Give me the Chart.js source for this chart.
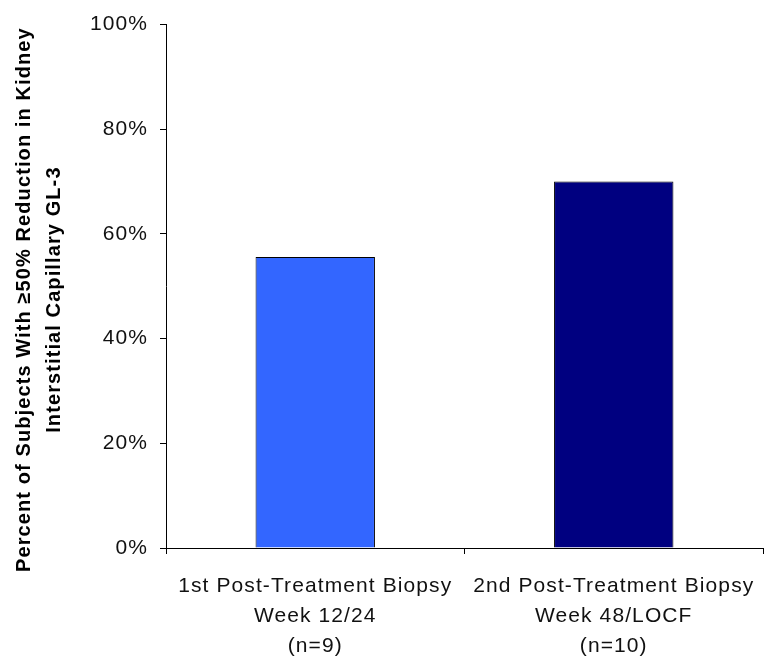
<!DOCTYPE html>
<html>
<head>
<meta charset="utf-8">
<script src="https://cdn.jsdelivr.net/npm/chart.js@4"></script>
<style>
  html, body { margin: 0; padding: 0; background: #ffffff; }
  #wrap { width: 766px; height: 657px; position: relative; }
</style>
</head>
<body>
<div id="wrap"><canvas id="c"></canvas></div>
<script>
const categories = [
  ["1st Post-Treatment Biopsy", "Week 12/24", "(n=9)"],
  ["2nd Post-Treatment Biopsy", "Week 48/LOCF", "(n=10)"]
];
const percentValues = [55.6, 70.0];
const barColors = ["#3366FF", "#000080"];
const yTickValues = [0, 20, 40, 60, 80, 100];
const yTitleLines = ["Percent of Subjects With \u226550% Reduction in Kidney", "Interstitial Capillary GL-3"];

const FONT = "'Liberation Sans', Arial, sans-serif";

const letterSpacingPlugin = {
  id: 'letterSpacing',
  beforeDraw(chart) { chart.ctx.letterSpacing = '1.1px'; },
  afterDraw(chart) { chart.ctx.letterSpacing = '0px'; }
};

new Chart(document.getElementById('c'), {
  type: 'bar',
  data: {
    labels: categories,
    datasets: [{
      data: percentValues,
      backgroundColor: barColors,
      borderColor: '#000000',
      borderWidth: 1,
      barPercentage: 0.4,
      categoryPercentage: 1.0
    }]
  },
  options: {
    responsive: true,
    maintainAspectRatio: false,
    animation: false,
    layout: { padding: { top: 24, right: 3, bottom: 0, left: 0 } },
    plugins: {
      legend: { display: false },
      tooltip: { enabled: false }
    },
    scales: {
      x: {
        offset: true,
        grid: {
          offset: true,
          drawOnChartArea: false,
          drawTicks: true,
          tickLength: 6,
          color: '#000000'
        },
        border: { display: true, color: '#000000', width: 1 },
        ticks: {
          color: '#111111',
          font: { family: FONT, size: 21, lineHeight: 1.43 },
          padding: 17,
          maxRotation: 0,
          minRotation: 0,
          autoSkip: false
        },
        afterFit(scale) { scale.height = 109; }
      },
      y: {
        min: 0,
        max: 100,
        afterBuildTicks(scale) { scale.ticks = yTickValues.map(v => ({ value: v })); },
        grid: {
          drawOnChartArea: false,
          drawTicks: true,
          tickLength: 6,
          color: '#000000'
        },
        border: { display: true, color: '#000000', width: 1 },
        ticks: {
          color: '#111111',
          font: { family: FONT, size: 21 },
          padding: 12,
          callback: (v) => v + '%'
        },
        title: {
          display: true,
          text: yTitleLines.map(t => t + '    '),
          color: '#000000',
          font: { family: FONT, size: 20, weight: 'bold', lineHeight: 1.5 },
          padding: { top: 9, bottom: 0 }
        },
        afterFit(scale) { scale.width = 166; }
      }
    }
  },
  plugins: [letterSpacingPlugin]
});
</script>
</body>
</html>
